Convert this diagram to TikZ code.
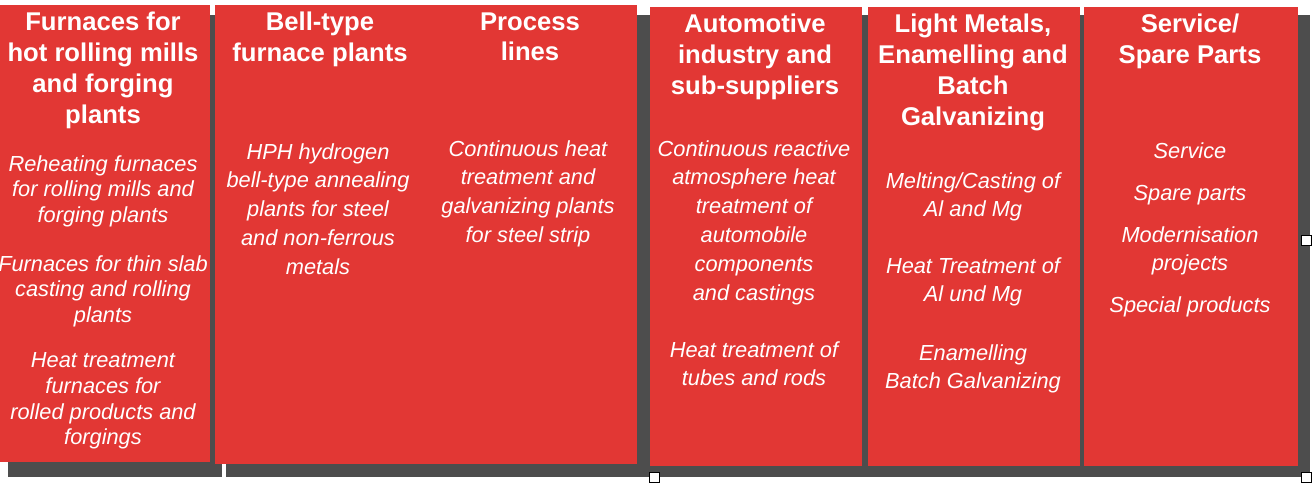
\documentclass[tikz,border=0pt]{standalone}
\usepackage{fontspec}
\setmainfont{Liberation Sans}
\definecolor{pred}{HTML}{E23734}
\definecolor{dgray}{HTML}{4D4D4D}
\begin{document}
\begin{tikzpicture}[x=0.02cm,y=-0.02cm,
  panel/.style={fill=pred,draw=none},
  ttl/.style={anchor=north,align=center,text=white,inner sep=0pt,font=\fontsize{14.6}{17.6}\selectfont\bfseries},
  bod/.style={anchor=north,align=center,text=white,inner sep=0pt,font=\fontsize{12.4}{16.4}\selectfont\itshape},
  bodt/.style={bod,font=\fontsize{12.4}{14.7}\selectfont\itshape},
  handle/.style={draw=black,fill=white,line width=0.5pt,minimum size=0.2cm,inner sep=0pt}]
\useasboundingbox (0,0) rectangle (1316,484);
\fill[dgray] (8,15) rectangle (1310,477);
\fill[white] (222,463) rectangle (226,484);
\fill[white] (0,477) rectangle (1316,484);
\fill[panel] (0,5) rectangle (210,462);
\fill[panel] (215,5) rectangle (637,464);
\fill[panel] (650,7) rectangle (862,466);
\fill[panel] (868,7) rectangle (1080,466);
\fill[panel] (1084,7) rectangle (1298,466);
\node[handle] (h1) at (654,477) {};
\node[handle] (h2) at (1306,240) {};
\node[handle] (h3) at (1306,477) {};
% titles
\node[ttl] (t1) at (103,12) {Furnaces for\\hot rolling mills\\and forging\\plants};
\node[ttl] (t2) at (320,12) {Bell-type\\furnace plants};
\node[ttl] (t3) at (530,12) {Process\\lines};
\node[ttl] (t4) at (755,14) {Automotive\\industry and\\sub-suppliers};
\node[ttl] (t5) at (973,14) {Light Metals,\\Enamelling and\\Batch\\Galvanizing};
\node[ttl] (t6) at (1190,14) {Service/\\Spare Parts};
% bodies
\node[bodt] (b1a) at (103,155) {Reheating furnaces\\for rolling mills and\\forging plants};
\node[bodt] (b1b) at (103,255) {Furnaces for thin slab\\casting and rolling\\plants};
\node[bodt] (b1c) at (103,352) {Heat treatment\\furnaces for\\rolled products and\\forgings};
\node[bod] (b2) at (318,143) {HPH hydrogen\\bell-type annealing\\plants for steel\\and non-ferrous\\metals};
\node[bod] (b3) at (528,140) {Continuous heat\\treatment and\\galvanizing plants\\for steel strip};
\node[bod] (b4a) at (754,140) {Continuous reactive\\atmosphere heat\\treatment of\\automobile\\components\\and castings};
\node[bod] (b4b) at (754,341) {Heat treatment of\\tubes and rods};
\node[bod] (b5a) at (973,172) {Melting/Casting of\\Al and Mg};
\node[bod] (b5b) at (973,257) {Heat Treatment of\\Al und Mg};
\node[bod] (b5c) at (973,344) {Enamelling\\Batch Galvanizing};
\node[bod] (b6) at (1190,142) {Service\\[7.5pt]Spare parts\\[7.5pt]Modernisation\\projects\\[7.5pt]Special products};
\end{tikzpicture}
\end{document}
